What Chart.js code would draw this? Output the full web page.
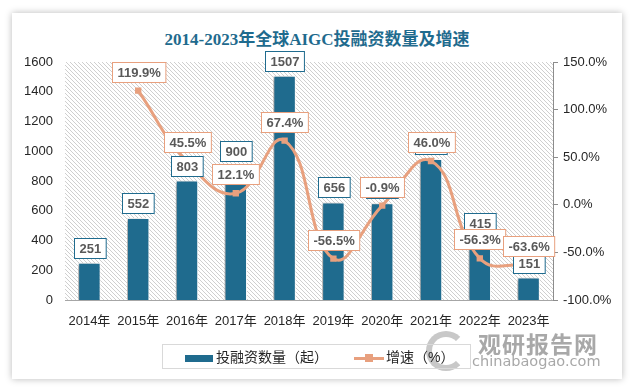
<!DOCTYPE html>
<html>
<head>
<meta charset="utf-8">
<script src="https://cdn.jsdelivr.net/npm/chart.js@4/dist/chart.umd.min.js"></script>
<style>
    body { margin: 0; background: #fff; }
    #wrap { position: relative; width: 634px; height: 390px; overflow: hidden; font-family: "Liberation Sans", "Noto Sans CJK SC", sans-serif; }
    #card { position: absolute; left: 12px; top: 13px; width: 610px; height: 366px; background: #fff; box-shadow: 0 0 7px rgba(0, 0, 0, 0.28); }
    #title { position: absolute; left: 0; width: 634px; top: 25px; text-align: center; font: bold 17px "Liberation Serif", "Noto Sans CJK SC", serif; color: #1f6b8e; }
    #chart { position: absolute; left: 0; top: 0; }
    #legend { position: absolute; left: 162px; top: 344px; width: 309px; height: 25px; border: 1px solid #d9d9d9; box-sizing: border-box; font-size: 14px; color: #262626; }
    .item { position: absolute; top: 3px; line-height: 18px; white-space: nowrap; }
    .swatch-bar { display: inline-block; width: 28px; height: 7px; background: #1f6b8e; vertical-align: middle; margin-right: 3px; }
    .swatch-line { display: inline-block; position: relative; width: 30px; height: 3px; background: #e8a07e; vertical-align: middle; margin-right: 2px; }
    .swatch-line i { position: absolute; left: 11px; top: -3px; width: 8px; height: 8px; background: #e8a07e; }
    #wm1 { position: absolute; left: 478px; top: 326px; font: bold 23px "Noto Sans CJK SC", sans-serif; color: #a8a8a8; letter-spacing: 1px; }
    #wm2 { position: absolute; left: 472px; top: 353px; font: 14.5px "DejaVu Sans", sans-serif; color: #a8a8a8; }
    #logo { position: absolute; left: 426px; top: 331px; width: 40px; height: 40px; border-radius: 50%; border: 6px solid #c8c8c8; border-right-color: transparent; box-sizing: border-box; }
</style>
</head>
<body>
<div id="wrap">
    <div id="card"></div>
    <div id="title">2014-2023年全球AIGC投融资数量及增速</div>
    <canvas id="chart" width="634" height="390"></canvas>
    <div id="logo"></div>
    <div id="wm1">观研报告网</div>
    <div id="wm2">chinabaogao.com</div>
    <div id="legend">
        <div class="item" style="left: 22px;"><span class="swatch-bar"></span>投融资数量（起）</div>
        <div class="item" style="left: 191px;"><span class="swatch-line"><i></i></span>增速（%）</div>
    </div>
</div>
<script>
const years = ['2014年', '2015年', '2016年', '2017年', '2018年', '2019年', '2020年', '2021年', '2022年', '2023年'];
const dealCounts = [251, 552, 803, 900, 1507, 656, 650, 948, 415, 151];
const growthRates = [null, 119.9, 45.5, 12.1, 67.4, -56.5, -0.9, 46.0, -56.3, -63.6];
const countTicks = [0, 1600, 200];
const rateTicks = [-100, 150, 50];

const barColor = '#1f6b8e';
const lineColor = '#e8a07e';
const labelFont = 'bold 13px "Liberation Sans", sans-serif';
const tickFont = { family: '"Liberation Sans", "Noto Sans CJK SC", sans-serif', size: 13 };

// diagonal hatching behind the plot
function makeHatch(ctx) {
    const c = document.createElement('canvas');
    c.width = 4;
    c.height = 4;
    const p = c.getContext('2d');
    p.strokeStyle = '#cfcfcf';
    p.lineWidth = 1;
    p.beginPath();
    p.moveTo(-1, -1);
    p.lineTo(5, 5);
    p.moveTo(3, -1);
    p.lineTo(5, 1);
    p.moveTo(-1, 3);
    p.lineTo(1, 5);
    p.stroke();
    return ctx.createPattern(c, 'repeat');
}

const hatchPlugin = {
    id: 'hatch',
    beforeDraw(chart) {
        const { ctx, chartArea: a } = chart;
        ctx.save();
        ctx.fillStyle = makeHatch(ctx);
        ctx.fillRect(a.left, a.top, a.right - a.left, a.bottom - a.top);
        ctx.restore();
    }
};

const shadowPlugin = {
    id: 'barShadow',
    beforeDatasetDraw(chart, args) {
        if (args.index !== 0) return;
        const ctx = chart.ctx;
        ctx.save();
        ctx.shadowColor = 'rgba(0, 0, 0, 0.35)';
        ctx.shadowBlur = 4;
        ctx.shadowOffsetX = -3;
        ctx.shadowOffsetY = 1;
    },
    afterDatasetDraw(chart, args) {
        if (args.index === 0) chart.ctx.restore();
    }
};

function drawBox(ctx, text, cx, bottom, border) {
    ctx.font = labelFont;
    const w = ctx.measureText(text).width + 10;
    const h = 20;
    const x = Math.round(cx - w / 2) + 0.5;
    const y = Math.round(bottom - h) + 0.5;
    ctx.fillStyle = '#fff';
    ctx.fillRect(x, y, w, h);
    ctx.strokeStyle = border;
    ctx.lineWidth = 1;
    ctx.strokeRect(x, y, w, h);
    ctx.fillStyle = '#595959';
    ctx.textAlign = 'center';
    ctx.textBaseline = 'middle';
    ctx.fillText(text, x + w / 2, y + h / 2 + 1);
}

const labelPlugin = {
    id: 'boxLabels',
    afterDatasetsDraw(chart) {
        const ctx = chart.ctx;
        ctx.save();
        chart.getDatasetMeta(0).data.forEach((bar, i) => {
            drawBox(ctx, String(dealCounts[i]), bar.x, bar.y - 5, barColor);
        });
        chart.getDatasetMeta(1).data.forEach((pt, i) => {
            if (growthRates[i] === null) return;
            drawBox(ctx, growthRates[i].toFixed(1) + '%', pt.x, pt.y - 9, lineColor);
        });
        ctx.restore();
    }
};

new Chart(document.getElementById('chart'), {
    data: {
        labels: years,
        datasets: [{
            type: 'bar',
            label: '投融资数量（起）',
            data: dealCounts,
            yAxisID: 'y',
            backgroundColor: barColor,
            borderColor: '#fff',
            borderWidth: 1,
            barPercentage: 0.46,
            categoryPercentage: 1,
            order: 1
        }, {
            type: 'line',
            label: '增速（%）',
            data: growthRates,
            yAxisID: 'y1',
            borderColor: lineColor,
            backgroundColor: lineColor,
            borderWidth: 3,
            pointStyle: 'rect',
            pointRadius: 4.5,
            pointBorderWidth: 0,
            tension: 0.45,
            order: 0
        }]
    },
    options: {
        responsive: false,
        animation: false,
        layout: { padding: { top: 62, bottom: 48, left: 0, right: 0 } },
        plugins: {
            legend: { display: false },
            tooltip: { enabled: false }
        },
        scales: {
            x: {
                grid: { display: false, drawTicks: false },
                border: { display: true, color: '#a6a6a6', width: 1 },
                ticks: { font: tickFont, color: '#262626', padding: 14, maxRotation: 0, autoSkip: false },
                afterFit: s => { s.height = 42; }
            },
            y: {
                position: 'left',
                min: countTicks[0],
                max: countTicks[1],
                ticks: { stepSize: countTicks[2], font: tickFont, color: '#262626', padding: 12, callback: v => String(v) },
                grid: { display: false, drawTicks: false },
                border: { display: false },
                afterFit: s => { s.width = 65; }
            },
            y1: {
                position: 'right',
                min: rateTicks[0],
                max: rateTicks[1],
                ticks: {
                    stepSize: rateTicks[2],
                    font: tickFont,
                    color: '#262626',
                    padding: 5,
                    callback: v => v.toFixed(1) + '%'
                },
                grid: { drawOnChartArea: false, drawTicks: true, tickLength: 5, color: '#8c8c8c' },
                border: { display: true, color: '#8c8c8c' },
                afterFit: s => { s.width = 81; }
            }
        }
    },
    plugins: [hatchPlugin, shadowPlugin, labelPlugin]
});
</script>
</body>
</html>
